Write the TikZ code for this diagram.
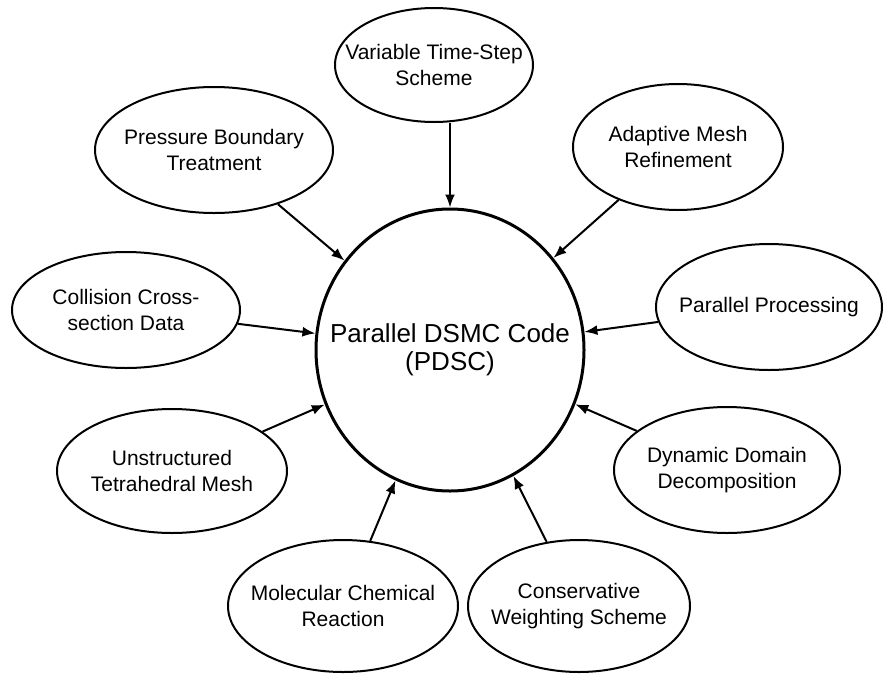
\documentclass[tikz,border=0pt]{standalone}
\usepackage{fontspec}
\setmainfont{Liberation Sans}
\usepackage{tikz}
\usetikzlibrary{shapes.geometric,arrows.meta}
\newcommand{\zw}[1]{\makebox[0pt]{#1}}

\begin{document}
\begin{tikzpicture}[x=0.5pt,y=-0.5pt,
 bub/.style={ellipse,draw,line width=1pt,inner sep=0pt,align=center,font=\fontsize{10.5}{13}\selectfont},
 arr/.style={-{Latex[length=6.5pt,width=5pt]},line width=1pt}]
\useasboundingbox (0,0) rectangle (883,675);
\node[bub,line width=1.5pt,minimum width=134pt,minimum height=141pt,font=\fontsize{13}{14}\selectfont] (pdsc) at (450,350) {\zw{Parallel DSMC Code}\\\zw{(PDSC)}};
\node[bub,minimum width=99pt,minimum height=57pt] (vts) at (434,65) {\zw{Variable Time-Step}\\\zw{Scheme}};
\node[bub,minimum width=119pt,minimum height=63pt] (pbt) at (214,150) {\zw{Pressure Boundary}\\\zw{Treatment}};
\node[bub,minimum width=105pt,minimum height=63pt] (amr) at (678,147) {\zw{Adaptive Mesh}\\\zw{Refinement}};
\node[bub,minimum width=114pt,minimum height=58pt] (ccs) at (126,310) {\zw{Collision Cross-}\\\zw{section Data}};
\node[bub,minimum width=113pt,minimum height=63pt] (pp) at (769,307) {\zw{Parallel Processing}};
\node[bub,minimum width=115pt,minimum height=62pt] (utm) at (172,471) {\zw{Unstructured}\\\zw{Tetrahedral Mesh}};
\node[bub,minimum width=113pt,minimum height=63pt] (ddd) at (727,470) {\zw{Dynamic Domain}\\\zw{Decomposition}};
\node[bub,minimum width=115pt,minimum height=66pt] (mcr) at (343,606) {\zw{Molecular Chemical}\\\zw{Reaction}};
\node[bub,minimum width=111pt,minimum height=66pt] (cws) at (579,606) {\zw{Conservative}\\\zw{Weighting Scheme}};
% feeds into the code
\draw[arr] (pdsc.north|-vts.south) -- (pdsc.north);
\foreach \n in {pbt,amr,ccs,pp,utm,ddd,mcr,cws}
  \draw[arr] (\n) -- (pdsc);
\end{tikzpicture}
\end{document}
